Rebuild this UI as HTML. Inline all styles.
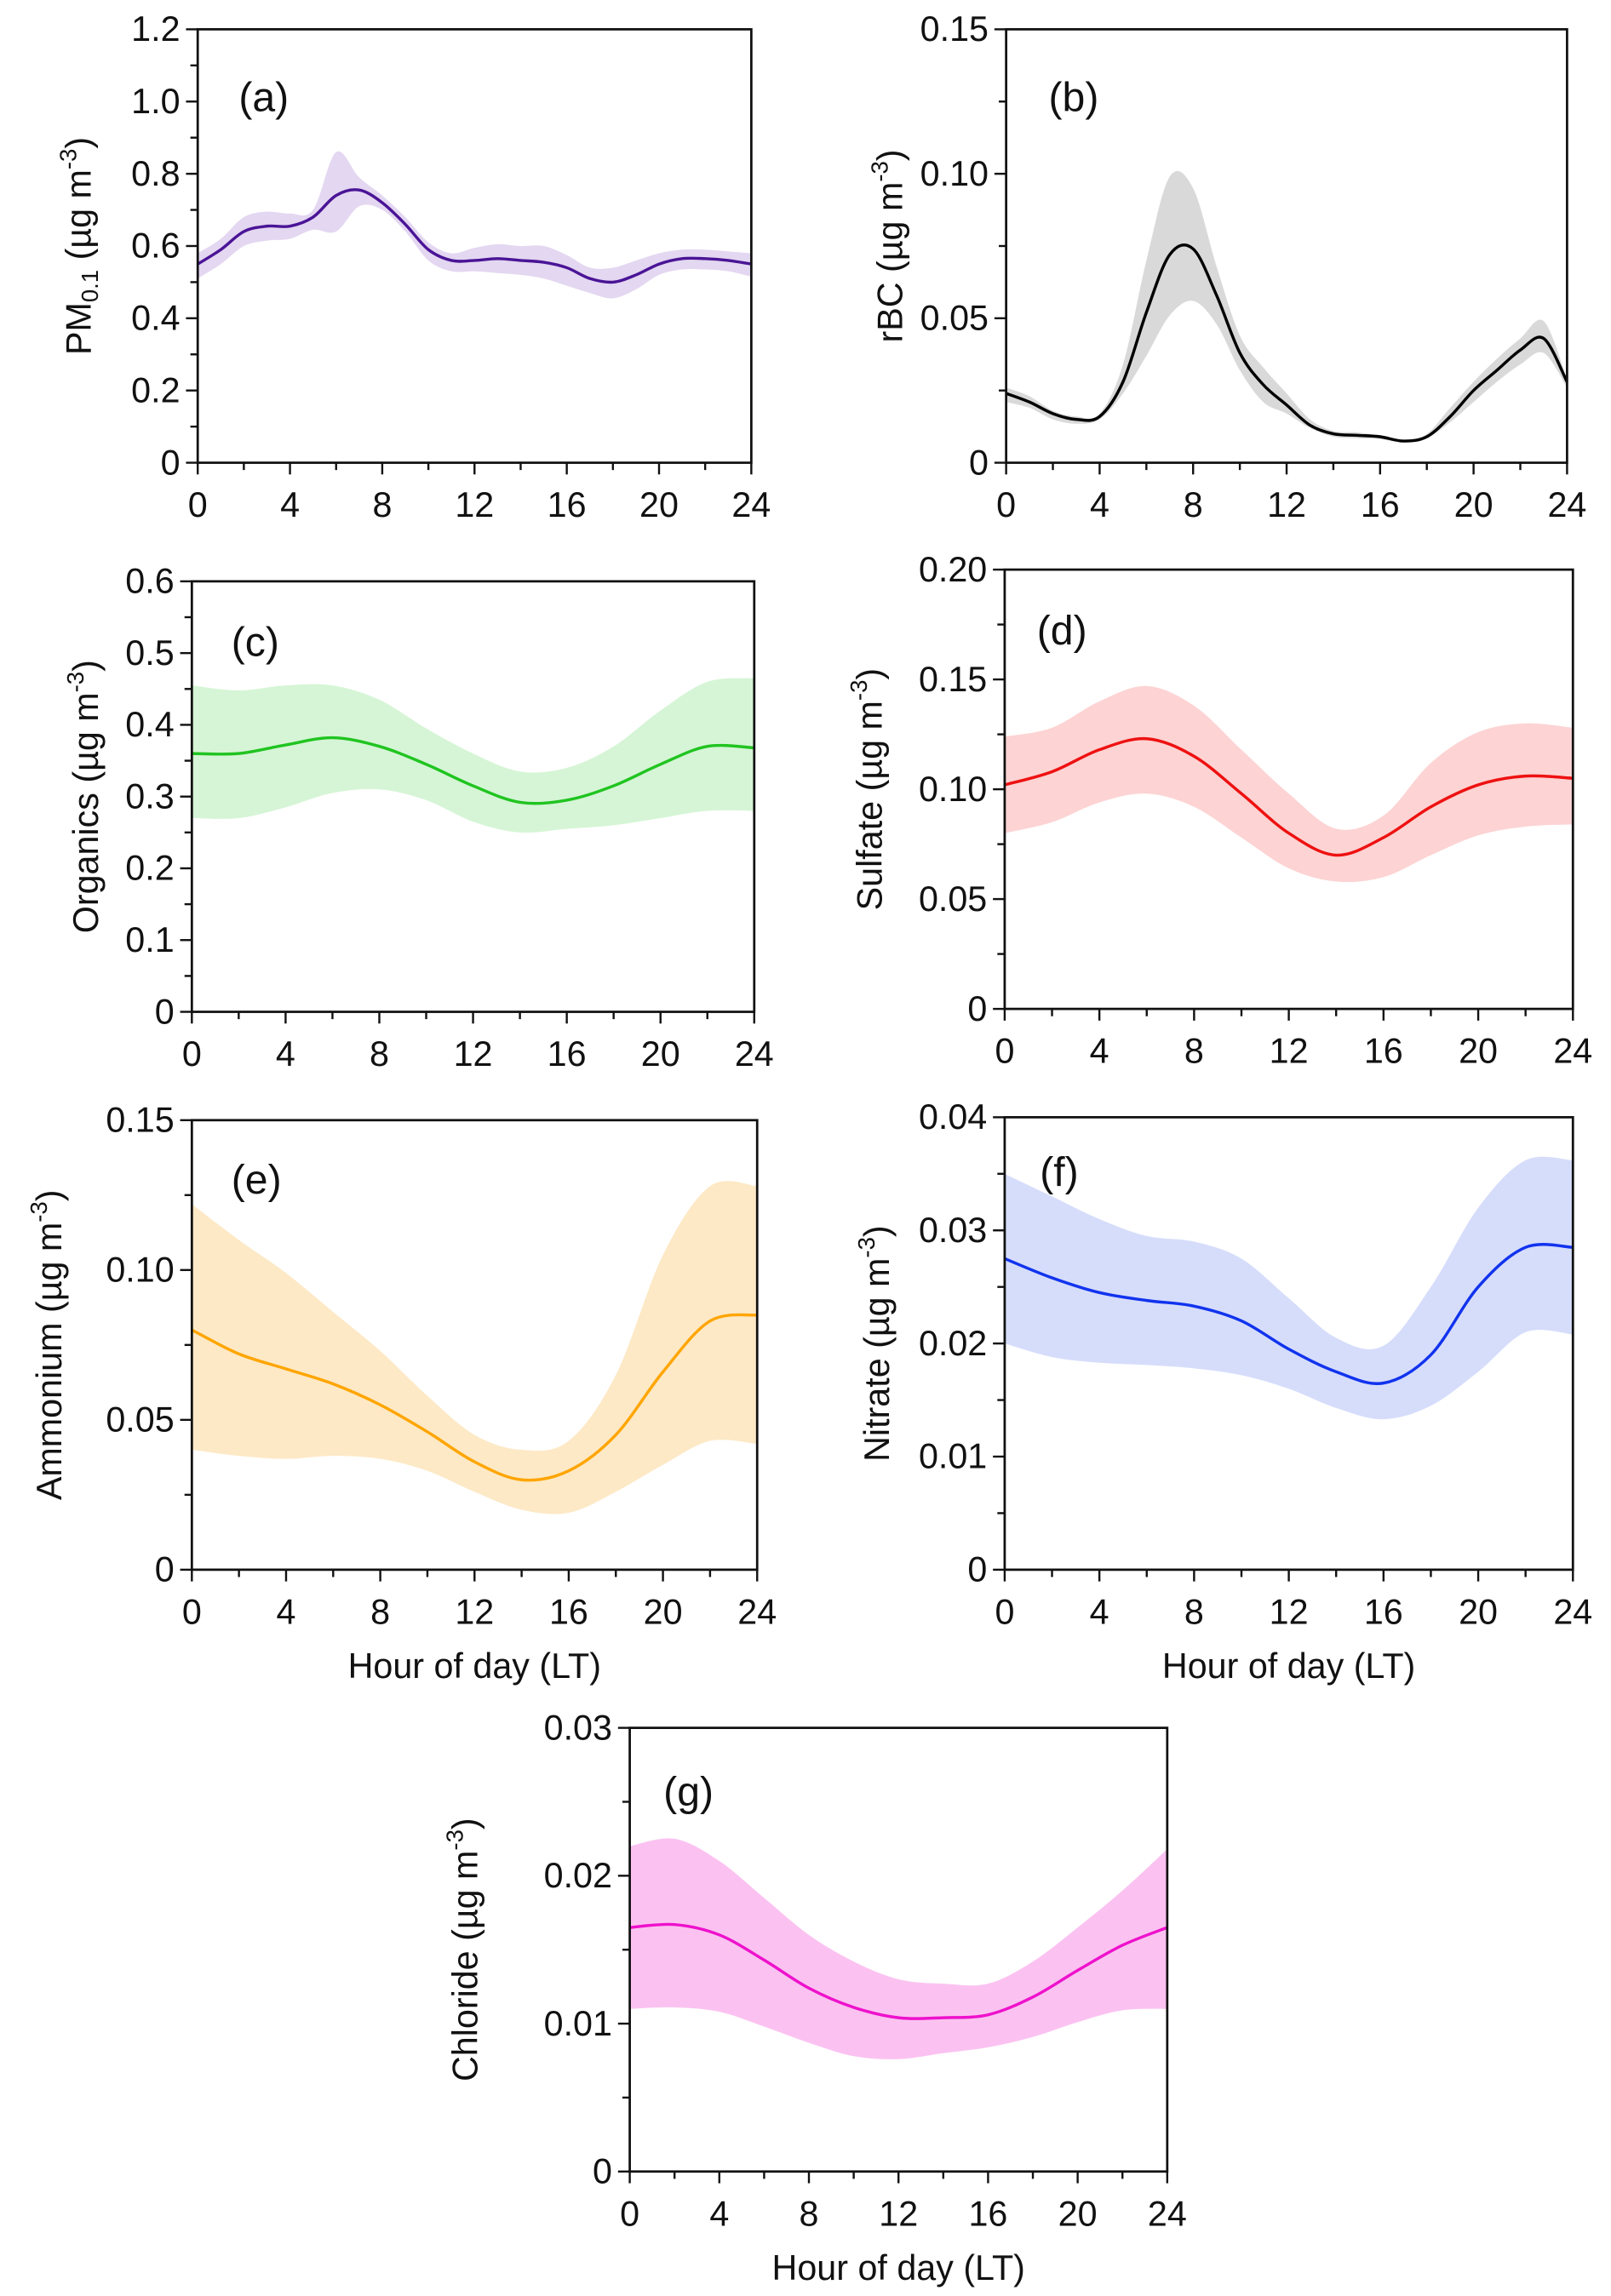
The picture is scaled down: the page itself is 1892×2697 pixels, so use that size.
<!DOCTYPE html>
<html><head><meta charset="utf-8"><style>
html,body{margin:0;padding:0;background:#fff}
svg{display:block}
text{font-family:"Liberation Sans",sans-serif;fill:#111}
</style></head><body>
<svg id="fig" width="1892" height="2697" viewBox="0 0 1100 1568" xmlns="http://www.w3.org/2000/svg"></svg>
<script>
const hoursA=[0,1,2,3,4,5,6,7,8,9,10,11,12,13,14,15,16,17,18,19,20,21,22,23,24];
const hours2=[0,2,4,6,8,10,12,14,16,18,20,22,24];
const pmMean=[0.55,0.59,0.64,0.655,0.655,0.68,0.74,0.755,0.72,0.66,0.59,0.56,0.56,0.565,0.56,0.555,0.54,0.51,0.50,0.52,0.55,0.565,0.565,0.56,0.55];
const pmHi=[0.58,0.62,0.68,0.695,0.69,0.70,0.86,0.79,0.74,0.68,0.61,0.58,0.595,0.605,0.60,0.60,0.575,0.54,0.54,0.56,0.58,0.59,0.59,0.585,0.58];
const pmLo=[0.51,0.55,0.60,0.615,0.62,0.645,0.64,0.71,0.70,0.64,0.56,0.53,0.53,0.525,0.52,0.51,0.49,0.47,0.455,0.48,0.52,0.535,0.535,0.53,0.515];
const bcMean=[0.024,0.021,0.017,0.015,0.016,0.028,0.052,0.072,0.074,0.058,0.038,0.027,0.02,0.013,0.01,0.0095,0.009,0.0075,0.009,0.016,0.025,0.032,0.039,0.043,0.028];
const bcHi=[0.026,0.023,0.018,0.016,0.017,0.034,0.07,0.099,0.095,0.068,0.044,0.033,0.024,0.015,0.011,0.0105,0.0095,0.008,0.01,0.019,0.028,0.036,0.043,0.049,0.029];
const bcLo=[0.021,0.019,0.015,0.0135,0.015,0.024,0.037,0.051,0.056,0.048,0.032,0.021,0.017,0.012,0.009,0.0085,0.0082,0.007,0.0085,0.014,0.021,0.028,0.034,0.038,0.026];
const orgMean=[0.36,0.36,0.372,0.382,0.37,0.345,0.315,0.292,0.295,0.315,0.345,0.37,0.368];
const orgHi=[0.455,0.448,0.455,0.455,0.435,0.395,0.36,0.335,0.34,0.37,0.42,0.46,0.465];
const orgLo=[0.27,0.27,0.285,0.305,0.31,0.295,0.265,0.25,0.255,0.26,0.27,0.28,0.28];
const so4Mean=[0.102,0.108,0.118,0.123,0.115,0.098,0.08,0.07,0.078,0.092,0.102,0.106,0.105];
const so4Hi=[0.124,0.128,0.14,0.147,0.138,0.118,0.098,0.082,0.088,0.112,0.126,0.13,0.128];
const so4Lo=[0.08,0.085,0.094,0.098,0.092,0.078,0.064,0.058,0.06,0.07,0.079,0.083,0.084];
const nh4Mean=[0.08,0.072,0.067,0.062,0.055,0.046,0.036,0.03,0.033,0.045,0.066,0.083,0.085];
const nh4Hi=[0.122,0.11,0.099,0.086,0.073,0.058,0.045,0.04,0.043,0.065,0.105,0.128,0.128];
const nh4Lo=[0.04,0.038,0.037,0.038,0.037,0.033,0.026,0.02,0.019,0.026,0.035,0.043,0.042];
const no3Mean=[0.0275,0.0258,0.0245,0.0238,0.0233,0.022,0.0195,0.0175,0.0165,0.019,0.025,0.0285,0.0285];
const no3Hi=[0.035,0.033,0.031,0.0295,0.029,0.0275,0.024,0.0205,0.0198,0.025,0.032,0.0362,0.0362];
const no3Lo=[0.02,0.0188,0.0183,0.0181,0.0178,0.0172,0.016,0.0143,0.0133,0.0145,0.0175,0.021,0.0208];
const clMean=[0.0165,0.0167,0.016,0.0143,0.0124,0.0111,0.0104,0.0104,0.0106,0.0118,0.0136,0.0153,0.0165];
const clHi=[0.022,0.0225,0.021,0.0185,0.016,0.0142,0.013,0.0127,0.0127,0.0142,0.0165,0.019,0.0218];
const clLo=[0.011,0.0111,0.0108,0.0098,0.0087,0.0078,0.0076,0.008,0.0084,0.0091,0.0101,0.0109,0.011];
const xTickLabels=["0","4","8","12","16","20","24"];
const ticksA=["0","0.2","0.4","0.6","0.8","1.0","1.2"];
const ticksB=["0","0.05","0.10","0.15"];
const ticksC=["0","0.1","0.2","0.3","0.4","0.5","0.6"];
const ticksD=["0","0.05","0.10","0.15","0.20"];
const ticksF=["0","0.01","0.02","0.03","0.04"];
const ticksG=["0","0.01","0.02","0.03"];

const NS="http://www.w3.org/2000/svg";
const fig=document.getElementById('fig');
function mk(tag,attrs,parent){const e=document.createElementNS(NS,tag);for(const k in attrs)e.setAttribute(k,attrs[k]);(parent||fig).appendChild(e);return e;}
function smooth(pts){let d='M'+pts[0][0]+','+pts[0][1];for(let i=0;i<pts.length-1;i++){const p0=pts[Math.max(0,i-1)],p1=pts[i],p2=pts[i+1],p3=pts[Math.min(pts.length-1,i+2)];
const c1=[p1[0]+(p2[0]-p0[0])/6,p1[1]+(p2[1]-p0[1])/6],c2=[p2[0]-(p3[0]-p1[0])/6,p2[1]-(p3[1]-p1[1])/6];d+=' C'+c1+' '+c2+' '+p2;}return d;}

function panel(cfg){
  const g=mk('g',{});
  
  
  const {x0,x1,y0,y1,ymax}=cfg;
  const sx=h=>x0+(x1-x0)*h/24, sy=v=>y1-(y1-y0)*v/ymax;
  const up=cfg.xs.map((h,i)=>[sx(h),sy(cfg.hi[i])]);
  const dn=cfg.xs.map((h,i)=>[sx(h),sy(cfg.lo[i])]).reverse();
  let d=smooth(up);const dd=smooth(dn);d+=' L'+dd.slice(1)+' Z';
  const band=mk('path',{d:d,fill:cfg.fill,stroke:'none'},g);
  
  
  const line=mk('path',{d:smooth(cfg.xs.map((h,i)=>[sx(h),sy(cfg.mean[i])])),fill:'none',stroke:cfg.color,'stroke-width':2},g);
  
  
  const box=mk('rect',{x:x0,y:y0,width:x1-x0,height:y1-y0,fill:'none',stroke:'#111','stroke-width':1.6},g);
  
  
  for(let h=0;h<=24;h+=2){mk('line',{x1:sx(h),x2:sx(h),y1:y1,y2:y1+(h%4==0?8:5),stroke:'#111','stroke-width':1.4},g);}
  xTickLabels.forEach(l=>{const t=mk('text',{x:sx(+l),y:y1+37,'text-anchor':'middle','font-size':24},g);t.textContent=l;
    
    });
  const n=cfg.ticks.length-1, step=ymax/n;
  for(let i=0;i<=2*n;i++){const v=step*i/2;mk('line',{x1:x0,x2:x0-(i%2==0?8:5),y1:sy(v),y2:sy(v),stroke:'#111','stroke-width':1.4},g);}
  cfg.ticks.forEach((l,i)=>{const t=mk('text',{x:x0-12,y:sy(step*i)+8,'text-anchor':'end','font-size':24},g);t.textContent=l;
    
    });
  const lab=mk('text',{x:cfg.lx,y:cfg.ly,'font-size':28},g);lab.textContent='('+cfg.id+')';
  
  
  const cy=(y0+y1)/2;
  const yt=mk('text',{x:cfg.tx,y:cy,'text-anchor':'middle','font-size':24,transform:'rotate(-90 '+cfg.tx+' '+cy+')'},g);
  
  
  if(cfg.pm){yt.innerHTML='PM<tspan font-size="16" dy="5">0.1</tspan><tspan dy="-5"> (µg m</tspan><tspan font-size="16" dy="-10">-3</tspan><tspan dy="10">)</tspan>';}
  else{yt.innerHTML=cfg.title+' (µg m<tspan font-size="16" dy="-10">-3</tspan><tspan dy="10">)</tspan>';}
  if(cfg.xl){const xt=mk('text',{x:(x0+x1)/2,y:y1+74,'text-anchor':'middle','font-size':24},g);xt.textContent='Hour of day (LT)';
    
    }
}
panel({id:'a',x0:135,x1:513,y0:20,y1:316,ymax:1.2,xs:hoursA,mean:pmMean,hi:pmHi,lo:pmLo,color:'#4a1496',fill:'#e3d7f1',ticks:ticksA,lx:163,ly:76,tx:62,pm:true});
panel({id:'b',x0:687,x1:1070,y0:20,y1:316,ymax:0.15,xs:hoursA,mean:bcMean,hi:bcHi,lo:bcLo,color:'#000',fill:'#d9d9d9',ticks:ticksB,lx:716,ly:76,tx:616,title:'rBC'});
panel({id:'c',x0:131,x1:515,y0:397,y1:691,ymax:0.6,xs:hours2,mean:orgMean,hi:orgHi,lo:orgLo,color:'#20c420',fill:'#d6f5d6',ticks:ticksC,lx:158,ly:448,tx:67,title:'Organics'});
panel({id:'d',x0:686,x1:1074,y0:389,y1:689,ymax:0.20,xs:hours2,mean:so4Mean,hi:so4Hi,lo:so4Lo,color:'#ee1111',fill:'#fdd3d3',ticks:ticksD,lx:708,ly:440,tx:602,title:'Sulfate'});
panel({id:'e',x0:131,x1:517,y0:765,y1:1072,ymax:0.15,xs:hours2,mean:nh4Mean,hi:nh4Hi,lo:nh4Lo,color:'#ffa500',fill:'#fde9c6',ticks:ticksB,lx:158,ly:815,tx:42,title:'Ammonium',xl:true});
panel({id:'f',x0:686,x1:1074,y0:763,y1:1072,ymax:0.04,xs:hours2,mean:no3Mean,hi:no3Hi,lo:no3Lo,color:'#1133ee',fill:'#d6ddfb',ticks:ticksF,lx:710,ly:810,tx:607,title:'Nitrate',xl:true});
panel({id:'g',x0:430,x1:797,y0:1180,y1:1483,ymax:0.03,xs:hours2,mean:clMean,hi:clHi,lo:clLo,color:'#ee11cc',fill:'#fbc2f1',ticks:ticksG,lx:453,ly:1233,tx:326,title:'Chloride',xl:true});
</script>
</body></html>
